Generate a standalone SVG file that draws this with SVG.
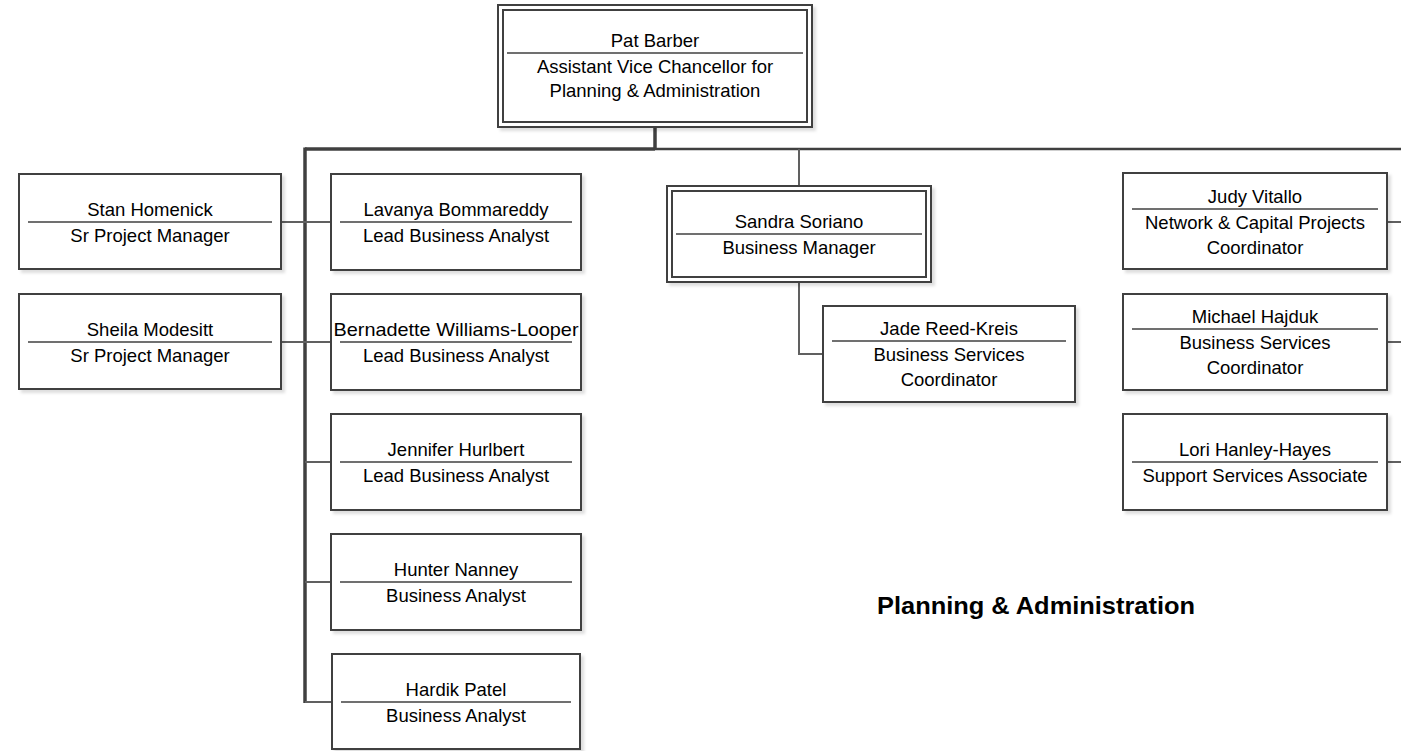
<svg xmlns="http://www.w3.org/2000/svg" width="1401" height="751" viewBox="0 0 1401 751">
  <defs>
    <filter id="sh" x="-5%" y="-5%" width="115%" height="125%">
      <feDropShadow dx="3" dy="3" stdDeviation="1.5" flood-color="#000" flood-opacity="0.13"/>
    </filter>
    <style>
      .box { fill: #fff; stroke: #404040; stroke-width: 2; }
      .inner { fill: none; stroke: #404040; stroke-width: 2; }
      .div { stroke: #404040; stroke-width: 1.6; }
      .t { font-family: "Liberation Sans", Arial, sans-serif; font-size: 18.5px; fill: #000; text-anchor: middle; }
      .bus { fill: none; stroke: #404040; stroke-width: 3.5; }
      .bus2 { fill: none; stroke: #404040; stroke-width: 2.5; }
      .con { fill: none; stroke: #606060; stroke-width: 2; }
      .title { font-family: "Liberation Sans", Arial, sans-serif; font-size: 24px; font-weight: bold; fill: #000; text-anchor: middle; }
    </style>
  </defs>
  <rect width="1401" height="751" fill="#fff"/>

  <g id="connectors">
    <path class="bus" d="M655,127 V149"/>
    <path class="bus" d="M305,149 H655"/>
    <path class="bus2" d="M655,149 H1401"/>
    <path class="bus" d="M305,147.5 V703"/>
    <path class="con" d="M799,149 V186"/>
    <path class="con" d="M281,222 H331"/>
    <path class="con" d="M281,342 H331"/>
    <path class="con" d="M305,462 H331"/>
    <path class="con" d="M305,582 H331"/>
    <path class="con" d="M305,702 H332"/>
    <path class="con" d="M799,282 V354 H823"/>
    <path class="con" d="M1387,222 H1401"/>
    <path class="con" d="M1387,342 H1401"/>
    <path class="con" d="M1387,462 H1401"/>
  </g>

  <g id="pat-barber">
    <rect class="box" x="498" y="5" width="314" height="122" filter="url(#sh)"/>
    <rect class="inner" x="503" y="10" width="304" height="112"/>
    <line class="div" x1="507" y1="53" x2="803" y2="53"/>
    <text class="t" x="655" y="47">Pat Barber</text>
    <text class="t" x="655" y="73">Assistant Vice Chancellor for</text>
    <text class="t" x="655" y="97">Planning &amp; Administration</text>
  </g>

  <g id="stan-homenick">
    <rect class="box" x="19" y="174" width="262" height="95" filter="url(#sh)"/>
    <line class="div" x1="28" y1="222" x2="272" y2="222"/>
    <text class="t" x="150" y="216">Stan Homenick</text>
    <text class="t" x="150" y="242">Sr Project Manager</text>
  </g>

  <g id="sheila-modesitt">
    <rect class="box" x="19" y="294" width="262" height="95" filter="url(#sh)"/>
    <line class="div" x1="28" y1="342" x2="272" y2="342"/>
    <text class="t" x="150" y="336">Sheila Modesitt</text>
    <text class="t" x="150" y="362">Sr Project Manager</text>
  </g>

  <g id="lavanya-bommareddy">
    <rect class="box" x="331" y="174" width="250" height="96" filter="url(#sh)"/>
    <line class="div" x1="340" y1="222" x2="572" y2="222"/>
    <text class="t" x="456" y="216">Lavanya Bommareddy</text>
    <text class="t" x="456" y="242">Lead Business Analyst</text>
  </g>

  <g id="bernadette-williams-looper">
    <rect class="box" x="331" y="294" width="250" height="96" filter="url(#sh)"/>
    <line class="div" x1="340" y1="342" x2="572" y2="342"/>
    <text class="t" x="456" y="336" textLength="245" lengthAdjust="spacingAndGlyphs">Bernadette Williams-Looper</text>
    <text class="t" x="456" y="362">Lead Business Analyst</text>
  </g>

  <g id="jennifer-hurlbert">
    <rect class="box" x="331" y="414" width="250" height="96" filter="url(#sh)"/>
    <line class="div" x1="340" y1="462" x2="572" y2="462"/>
    <text class="t" x="456" y="456">Jennifer Hurlbert</text>
    <text class="t" x="456" y="482">Lead Business Analyst</text>
  </g>

  <g id="hunter-nanney">
    <rect class="box" x="331" y="534" width="250" height="96" filter="url(#sh)"/>
    <line class="div" x1="340" y1="582" x2="572" y2="582"/>
    <text class="t" x="456" y="576">Hunter Nanney</text>
    <text class="t" x="456" y="602">Business Analyst</text>
  </g>

  <g id="hardik-patel">
    <rect class="box" x="332" y="654" width="248" height="95" filter="url(#sh)"/>
    <line class="div" x1="341" y1="702" x2="571" y2="702"/>
    <text class="t" x="456" y="696">Hardik Patel</text>
    <text class="t" x="456" y="722">Business Analyst</text>
  </g>

  <g id="sandra-soriano">
    <rect class="box" x="667" y="186" width="264" height="96" filter="url(#sh)"/>
    <rect class="inner" x="672" y="191" width="254" height="86"/>
    <line class="div" x1="676" y1="234" x2="922" y2="234"/>
    <text class="t" x="799" y="228">Sandra Soriano</text>
    <text class="t" x="799" y="254">Business Manager</text>
  </g>

  <g id="jade-reed-kreis">
    <rect class="box" x="823" y="306" width="252" height="96" filter="url(#sh)"/>
    <line class="div" x1="832" y1="341" x2="1066" y2="341"/>
    <text class="t" x="949" y="335">Jade Reed-Kreis</text>
    <text class="t" x="949" y="361">Business Services</text>
    <text class="t" x="949" y="386">Coordinator</text>
  </g>

  <g id="judy-vitallo">
    <rect class="box" x="1123" y="173" width="264" height="96" filter="url(#sh)"/>
    <line class="div" x1="1132" y1="209" x2="1378" y2="209"/>
    <text class="t" x="1255" y="203">Judy Vitallo</text>
    <text class="t" x="1255" y="229">Network &amp; Capital Projects</text>
    <text class="t" x="1255" y="254">Coordinator</text>
  </g>

  <g id="michael-hajduk">
    <rect class="box" x="1123" y="294" width="264" height="96" filter="url(#sh)"/>
    <line class="div" x1="1132" y1="329" x2="1378" y2="329"/>
    <text class="t" x="1255" y="323">Michael Hajduk</text>
    <text class="t" x="1255" y="349">Business Services</text>
    <text class="t" x="1255" y="374">Coordinator</text>
  </g>

  <g id="lori-hanley-hayes">
    <rect class="box" x="1123" y="414" width="264" height="96" filter="url(#sh)"/>
    <line class="div" x1="1132" y1="462" x2="1378" y2="462"/>
    <text class="t" x="1255" y="456">Lori Hanley-Hayes</text>
    <text class="t" x="1255" y="482">Support Services Associate</text>
  </g>

  <g id="diagram-title">
    <text class="title" x="1036" y="614" textLength="318" lengthAdjust="spacingAndGlyphs">Planning &amp; Administration</text>
  </g>
</svg>
